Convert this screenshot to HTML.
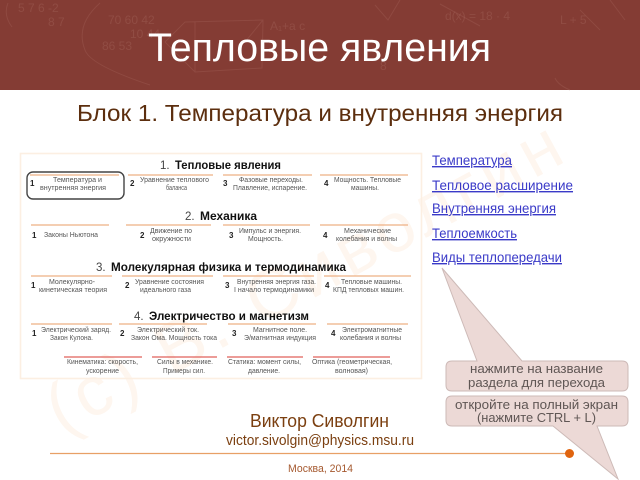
<!DOCTYPE html>
<html><head><meta charset="utf-8"><style>
html,body{margin:0;padding:0;background:#fff}
svg{display:block}
text{font-family:"Liberation Sans",sans-serif}
.s{font-size:7px;fill:#555}
.n{font-size:8px;font-weight:bold;fill:#222}
.h{font-size:11.5px;fill:#444}
.b{font-size:11.5px;font-weight:bold;fill:#111}
.l{font-size:14px;fill:#3a3ac8;text-decoration:underline}
.c{font-size:12.5px;fill:#5f5654}
.o{stroke:#edb183;stroke-width:1.3}
.r{stroke:#e0605a;stroke-width:1.3}
</style></head><body>
<svg width="640" height="480" viewBox="0 0 640 480" xmlns="http://www.w3.org/2000/svg">
<rect width="640" height="480" fill="#fff"/>
<rect y="0" width="640" height="90" fill="#843c34"/>
<g fill="none" stroke="#a86a60" stroke-width="1" opacity=".3">
<path d="M8 3Q3 15 12 27M100 3Q75 25 85 50Q90 65 150 85M165 42L185 22L263 20L262 68L195 72L165 42M195 72V22M263 20L245 42M400 0L388 20L375 5M610 0L625 20M555 78Q558 85 570 90M440 4L480 26M580 10L600 30"/>
</g>
<g fill="#a86a60" opacity=".35" font-size="12">
<text x="18" y="12">5 7 6 -2</text><text x="48" y="26">8 7</text><text x="108" y="24">70 60 42</text><text x="130" y="38">10 44</text><text x="102" y="50">86 53</text><text x="270" y="30">A₁+a c</text><text x="445" y="20">d(x) = 18 · 4</text><text x="560" y="24">L + 5</text><text x="380" y="70">8</text>
</g>
<text x="148" y="61" font-size="40" fill="#fff" textLength="343" lengthAdjust="spacingAndGlyphs">Тепловые явления</text>

<text transform="translate(62,435) rotate(-28.5)" font-size="70" fill="#fef6ef" textLength="575" lengthAdjust="spacing">(c) В. Сиволгин</text>
<text x="77" y="121" font-size="23.5" fill="#5c2e0e" textLength="486" lengthAdjust="spacingAndGlyphs">Блок 1. Температура и внутренняя энергия</text>

<rect x="20.5" y="153.5" width="401" height="225" fill="none" stroke="#fcefe2" stroke-width="1.6"/>

<!-- row 1 -->
<text class="h" x="160" y="169">1.</text><text class="b" x="175" y="169" textLength="106" lengthAdjust="spacingAndGlyphs">Тепловые явления</text>
<rect x="27" y="172" width="97" height="27" rx="6" fill="none" stroke="#444" stroke-width="1.4"/>
<line class="o" x1="30" x2="119" y1="175" y2="175"/><line class="o" x1="128" x2="213" y1="175" y2="175"/><line class="o" x1="223" x2="312" y1="175" y2="175"/><line class="o" x1="320" x2="408" y1="175" y2="175"/>
<text class="n" x="30" y="186">1</text><text class="n" x="130" y="186">2</text><text class="n" x="223" y="186">3</text><text class="n" x="324" y="186">4</text>
<text class="s" x="53" y="182" textLength="49" lengthAdjust="spacingAndGlyphs">Температура  и</text>
<text class="s" x="40" y="190" textLength="66" lengthAdjust="spacingAndGlyphs">внутренняя  энергия</text>
<text class="s" x="140" y="182" textLength="69" lengthAdjust="spacingAndGlyphs">Уравнение теплового</text>
<text class="s" x="166" y="190" textLength="21" lengthAdjust="spacingAndGlyphs">баланса</text>
<text class="s" x="239" y="182" textLength="64" lengthAdjust="spacingAndGlyphs">Фазовые переходы.</text>
<text class="s" x="233" y="190" textLength="74" lengthAdjust="spacingAndGlyphs">Плавление, испарение.</text>
<text class="s" x="334" y="182" textLength="67" lengthAdjust="spacingAndGlyphs">Мощность. Тепловые</text>
<text class="s" x="351" y="190" textLength="28" lengthAdjust="spacingAndGlyphs">машины.</text>

<!-- row 2 -->
<text class="h" x="185" y="220">2.</text><text class="b" x="200" y="220" textLength="57" lengthAdjust="spacingAndGlyphs">Механика</text>
<line class="o" x1="31" x2="109" y1="225" y2="225"/><line class="o" x1="126" x2="211" y1="225" y2="225"/><line class="o" x1="223" x2="310" y1="225" y2="225"/><line class="o" x1="320" x2="408" y1="225" y2="225"/>
<text class="n" x="32" y="238">1</text><text class="n" x="140" y="238">2</text><text class="n" x="229" y="238">3</text><text class="n" x="323" y="238">4</text>
<text class="s" x="44" y="237" textLength="54" lengthAdjust="spacingAndGlyphs">Законы Ньютона</text>
<text class="s" x="150" y="233" textLength="42" lengthAdjust="spacingAndGlyphs">Движение по</text>
<text class="s" x="152" y="241" textLength="39" lengthAdjust="spacingAndGlyphs">окружности</text>
<text class="s" x="239" y="233" textLength="62" lengthAdjust="spacingAndGlyphs">Импульс и энергия.</text>
<text class="s" x="248" y="241" textLength="35" lengthAdjust="spacingAndGlyphs">Мощность.</text>
<text class="s" x="344" y="233" textLength="47" lengthAdjust="spacingAndGlyphs">Механические</text>
<text class="s" x="336" y="241" textLength="61" lengthAdjust="spacingAndGlyphs">колебания и волны</text>

<!-- row 3 -->
<text class="h" x="96" y="271">3.</text><text class="b" x="111" y="271" textLength="235" lengthAdjust="spacingAndGlyphs">Молекулярная физика и термодинамика</text>
<line class="o" x1="31" x2="112" y1="276" y2="276"/><line class="o" x1="122" x2="213" y1="276" y2="276"/><line class="o" x1="223" x2="314" y1="276" y2="276"/><line class="o" x1="324" x2="411" y1="276" y2="276"/>
<text class="n" x="31" y="288">1</text><text class="n" x="125" y="288">2</text><text class="n" x="225" y="288">3</text><text class="n" x="325" y="288">4</text>
<text class="s" x="49" y="284" textLength="46" lengthAdjust="spacingAndGlyphs">Молекулярно-</text>
<text class="s" x="39" y="292" textLength="68" lengthAdjust="spacingAndGlyphs">кинетическая теория</text>
<text class="s" x="135" y="284" textLength="69" lengthAdjust="spacingAndGlyphs">Уравнение состояния</text>
<text class="s" x="140" y="292" textLength="51" lengthAdjust="spacingAndGlyphs">идеального газа</text>
<text class="s" x="237" y="284" textLength="79" lengthAdjust="spacingAndGlyphs">Внутренняя энергия газа.</text>
<text class="s" x="234" y="292" textLength="80" lengthAdjust="spacingAndGlyphs">I начало термодинамики</text>
<text class="s" x="341" y="284" textLength="61" lengthAdjust="spacingAndGlyphs">Тепловые машины.</text>
<text class="s" x="333" y="292" textLength="71" lengthAdjust="spacingAndGlyphs">КПД тепловых машин.</text>

<!-- row 4 -->
<text class="h" x="134" y="320">4.</text><text class="b" x="149" y="320" textLength="160" lengthAdjust="spacingAndGlyphs">Электричество и магнетизм</text>
<line class="o" x1="31" x2="112" y1="324" y2="324"/><line class="o" x1="119" x2="207" y1="324" y2="324"/><line class="o" x1="228" x2="316" y1="324" y2="324"/><line class="o" x1="327" x2="408" y1="324" y2="324"/>
<text class="n" x="32" y="336">1</text><text class="n" x="120" y="336">2</text><text class="n" x="232" y="336">3</text><text class="n" x="331" y="336">4</text>
<text class="s" x="41" y="332" textLength="70" lengthAdjust="spacingAndGlyphs">Электрический заряд.</text>
<text class="s" x="50" y="340" textLength="43" lengthAdjust="spacingAndGlyphs">Закон Кулона.</text>
<text class="s" x="137" y="332" textLength="62" lengthAdjust="spacingAndGlyphs">Электрический ток.</text>
<text class="s" x="131" y="340" textLength="86" lengthAdjust="spacingAndGlyphs">Закон Ома. Мощность тока</text>
<text class="s" x="253" y="332" textLength="54" lengthAdjust="spacingAndGlyphs">Магнитное поле.</text>
<text class="s" x="244" y="340" textLength="72" lengthAdjust="spacingAndGlyphs">Э/магнитная индукция</text>
<text class="s" x="342" y="332" textLength="60" lengthAdjust="spacingAndGlyphs">Электромагнитные</text>
<text class="s" x="340" y="340" textLength="61" lengthAdjust="spacingAndGlyphs">колебания и волны</text>

<!-- red row -->
<line class="r" x1="64" x2="142" y1="357" y2="357"/><line class="r" x1="152" x2="217" y1="357" y2="357"/><line class="r" x1="227" x2="303" y1="357" y2="357"/><line class="r" x1="313" x2="390" y1="357" y2="357"/>
<text class="s" x="67" y="364" textLength="71" lengthAdjust="spacingAndGlyphs">Кинематика: скорость,</text>
<text class="s" x="86" y="373" textLength="33" lengthAdjust="spacingAndGlyphs">ускорение</text>
<text class="s" x="157" y="364" textLength="56" lengthAdjust="spacingAndGlyphs">Силы в механике.</text>
<text class="s" x="163" y="373" textLength="42" lengthAdjust="spacingAndGlyphs">Примеры сил.</text>
<text class="s" x="228" y="364" textLength="73" lengthAdjust="spacingAndGlyphs">Статика: момент силы,</text>
<text class="s" x="248" y="373" textLength="32" lengthAdjust="spacingAndGlyphs">давление.</text>
<text class="s" x="312" y="364" textLength="80" lengthAdjust="spacingAndGlyphs">Оптика (геометрическая,</text>
<text class="s" x="335" y="373" textLength="33" lengthAdjust="spacingAndGlyphs">волновая)</text>

<!-- links -->
<text class="l" x="432" y="165" textLength="80" lengthAdjust="spacingAndGlyphs">Температура</text>
<text class="l" x="432" y="190" textLength="141" lengthAdjust="spacingAndGlyphs">Тепловое расширение</text>
<text class="l" x="432" y="213" textLength="124" lengthAdjust="spacingAndGlyphs">Внутренняя энергия</text>
<text class="l" x="432" y="238" textLength="85" lengthAdjust="spacingAndGlyphs">Теплоемкость</text>
<text class="l" x="432" y="262" textLength="130" lengthAdjust="spacingAndGlyphs">Виды теплопередачи</text>

<!-- callouts -->
<path d="M477 361L442 268L522 361H622Q628 361 628 367V385Q628 391 622 391H452Q446 391 446 385V367Q446 361 452 361Z" fill="#ecd9d6" stroke="#cdbab7"/>
<line x1="50" x2="569" y1="453.5" y2="453.5" stroke="#e8a066" stroke-width="1.2"/>
<circle cx="569.5" cy="453.5" r="4.5" fill="#e0640f"/>
<path d="M452 396H622Q628 396 628 402V420Q628 426 622 426H597L618 479L553 426H452Q446 426 446 420V402Q446 396 452 396Z" fill="#ecd9d6" stroke="#cdbab7"/>
<text class="c" x="470" y="373" textLength="133" lengthAdjust="spacingAndGlyphs">нажмите на название</text>
<text class="c" x="468" y="387" textLength="137" lengthAdjust="spacingAndGlyphs">раздела для перехода</text>
<text class="c" x="455" y="409" textLength="163" lengthAdjust="spacingAndGlyphs">откройте на полный экран</text>
<text class="c" x="477" y="422" textLength="119" lengthAdjust="spacingAndGlyphs">(нажмите CTRL + L)</text>

<!-- author -->
<text x="250" y="427" font-size="18" fill="#7b3f10" textLength="139" lengthAdjust="spacingAndGlyphs">Виктор Сиволгин</text>
<text x="226" y="445" font-size="14.5" fill="#7b3f10" textLength="188" lengthAdjust="spacingAndGlyphs">victor.sivolgin@physics.msu.ru</text>
<text x="288" y="472" font-size="11" fill="#a5592f" textLength="65" lengthAdjust="spacingAndGlyphs">Москва, 2014</text>
</svg>
</body></html>
